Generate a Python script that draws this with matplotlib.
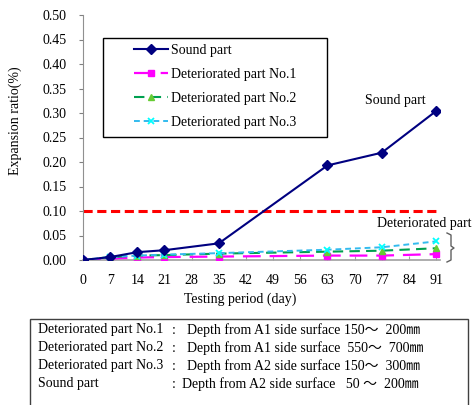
import matplotlib
matplotlib.use("Agg")
import matplotlib.pyplot as plt
from matplotlib.patches import Rectangle
from matplotlib.lines import Line2D

plt.rcParams['font.family'] = ['Liberation Serif', 'Noto Sans CJK JP']
plt.rcParams['font.size'] = 10

# data
days = [0, 7, 14, 21, 35, 63, 77, 91]
sound = [0.000, 0.006, 0.016, 0.020, 0.034, 0.193, 0.219, 0.304]
det1 = [0.000, 0.003, 0.005, 0.006, 0.007, 0.009, 0.009, 0.012]
det2 = [0.000, 0.006, 0.009, 0.010, 0.013, 0.017, 0.019, 0.024]
det3 = [0.000, 0.006, 0.009, 0.011, 0.014, 0.021, 0.026, 0.038]
limit = 0.10
labels = ["Sound part", "Deteriorated part No.1",
          "Deteriorated part No.2", "Deteriorated part No.3"]
notes_left = ["Deteriorated part No.1", "Deteriorated part No.2",
              "Deteriorated part No.3", "Sound part"]
notes_right = ["Depth from A1 side surface 150～  200㎜",
               "Depth from A1 side surface  550～  700㎜",
               "Depth from A2 side surface 150～  300㎜",
               "Depth from A2 side surface   50 ～  200㎜"]

W, H = 476, 405
fig = plt.figure(figsize=(W / 100, H / 100), dpi=100)
ax = fig.add_axes([83 / W, 1 - 260 / H, (440 - 83) / W, 245 / H])

ax.hlines(limit, 0, 91, colors="#FF0000", linestyles=(0, (3, 1.5)), lw=2.2, zorder=1)

ax.plot(days, det1, color="#FF00FF", lw=1.6, ls=(0, (8, 4)),
        marker="s", ms=5, label=labels[1], zorder=3)
ax.plot(days, det2, color="#00A050", lw=1.5, ls=(0, (5, 3)),
        marker="^", ms=5, mfc="#66CC33", mec="#66CC33", label=labels[2], zorder=3)
ax.plot(days, det3, color="#33BBEE", lw=1.4, ls=(0, (3, 2)),
        marker="x", ms=5, mew=1.3, mec="#00FFFF", label=labels[3], zorder=3)
ax.plot(days, sound, color="#000080", lw=1.5,
        marker="D", ms=5, label=labels[0], zorder=4)

ax.set_xlim(0, 92)
ax.set_ylim(0, 0.5)
ax.set_xticks(list(range(0, 92, 7)))
ax.set_yticks([i * 0.05 for i in range(11)])
ax.yaxis.set_major_formatter(plt.FormatStrFormatter("%.2f"))
ax.tick_params(axis="y", direction="out", length=3, pad=9, color="#808080", labelsize=10)
ax.tick_params(axis="x", direction="in", length=3, pad=10, color="#A0A0A0", labelsize=10)
for s in ["top", "right"]:
    ax.spines[s].set_visible(False)
ax.spines["left"].set_color("#909090")
ax.spines["bottom"].set_color("#A0A0A0")
ax.spines["bottom"].set_linewidth(1.2)

fig.text(240 / W, 1 - 299 / H, "Testing period (day)", ha="center", va="center", fontsize=10)
fig.text(15 / W, 1 - 121 / H, "Expansion ratio(%)", rotation=90,
         ha="center", va="center", fontsize=10)

ax.text(80.4, 0.3245, "Sound part", ha="center", va="center", fontsize=10, clip_on=False)
ax.text(87.9, 0.0755, "Deteriorated part", ha="center", va="center", fontsize=10, clip_on=False)

# bracket next to the deteriorated lines
px = lambda x, y: (x / W, 1 - y / H)
bx = [447, 451, 451, 454, 451, 451, 447]
by = [233, 235, 246, 248, 250, 260, 262]
fig.add_artist(Line2D([x / W for x in bx], [1 - y / H for y in by],
                      color="#606060", lw=1.0, transform=fig.transFigure))

# legend box
fig.add_artist(Rectangle(px(103, 137), 224 / W, 99 / H, transform=fig.transFigure,
                         fill=False, ec="black", lw=1.0))
h, l = ax.get_legend_handles_labels()
order = [3, 0, 1, 2]
ax.legend([h[i] for i in order], [l[i] for i in order], loc="upper left",
          bbox_to_anchor=px(128, 38), bbox_transform=fig.transFigure,
          frameon=False, fontsize=10, handlelength=2.45, handletextpad=0.25,
          labelspacing=0.8, borderpad=0.43, borderaxespad=0)

# notes box
fig.add_artist(Rectangle(px(30, 420), (468 - 30) / W, 101 / H, transform=fig.transFigure,
                         fill=False, ec="#404040", lw=1.0, clip_on=False))
ys = [330, 348, 366, 384]
for i, y in enumerate(ys):
    fig.text(38 / W, 1 - y / H, notes_left[i], ha="left", va="center", fontsize=10)
    fig.text(172 / W, 1 - y / H, ":", ha="left", va="center", fontsize=10)
    x0 = 182 if i == 3 else 187
    fig.text(x0 / W, 1 - y / H, notes_right[i], ha="left", va="center", fontsize=10)

fig.savefig("out.png", dpi=100)
